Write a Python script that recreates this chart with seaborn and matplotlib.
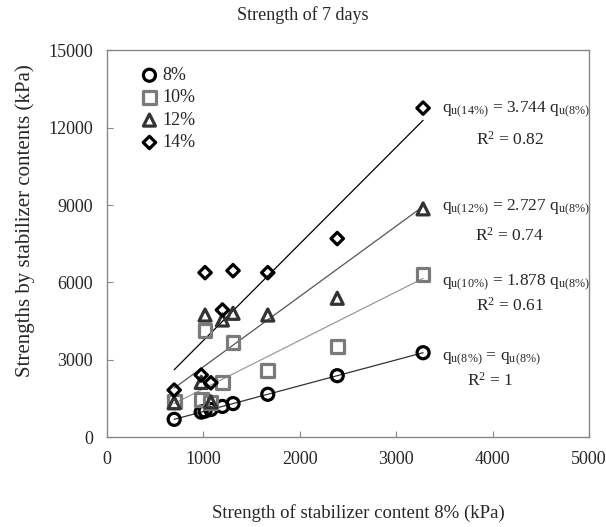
import numpy as np
import pandas as pd
import matplotlib
matplotlib.use("Agg")
import matplotlib.pyplot as plt
import seaborn as sns

# data (kPa)
strength_8 = [700, 980, 1020, 1080, 1200, 1310, 1670, 2390, 3280]
strength_10 = [1380, 1470, 4130, 1350, 2116, 3667, 2585, 3520, 6300]
strength_12 = [1341, 2130, 4740, 1380, 4547, 4806, 4740, 5388, 8850]
strength_14 = [1833, 2415, 6380, 2116, 4934, 6457, 6380, 7700, 12752]

groups = ["8%", "10%", "12%", "14%"]
slopes = [1.0, 1.878, 2.727, 3.744]
r_squared = ["1", "0.61", "0.74", "0.82"]

x_ticks = [0, 1000, 2000, 3000, 4000, 5000]
y_ticks = [0, 3000, 6000, 9000, 12000, 15000]

df = pd.DataFrame({"x": strength_8, "8%": strength_8, "10%": strength_10,
                   "12%": strength_12, "14%": strength_14})
long_df = df.melt(id_vars="x", var_name="group", value_name="y")

sns.set_style("ticks")
plt.rcParams["font.family"] = ["Liberation Serif", "DejaVu Serif"]
plt.rcParams["mathtext.fontset"] = "custom"
plt.rcParams["mathtext.rm"] = "Liberation Serif"
plt.rcParams["mathtext.it"] = "Liberation Serif:italic"

#Marker / line styles per group.
markers = {"8%": "o", "10%": "s", "12%": "^", "14%": "D"}
marker_sizes = {"8%": 75, "10%": 85, "12%": 75, "14%": 40}
marker_colors = {"8%": "black", "10%": "#7a7a7a", "12%": "#333333", "14%": "black"}
line_colors = {"8%": "#333333", "10%": "#9a9a9a", "12%": "#555555", "14%": "black"}

fig = plt.figure(figsize=(6.06, 5.27), dpi=100)
ax = fig.add_axes([0.176, 0.170, 0.796, 0.735])

#Fitted lines through origin.
x_line = np.array([min(strength_8), max(strength_8)])
for g, k in zip(groups, slopes):
    sns.lineplot(x=x_line, y=k * x_line, color=line_colors[g], linewidth=0.9, ax=ax, zorder=2)

#Scatter points, hollow markers.
for g in groups:
    sub = long_df[long_df["group"] == g]
    sns.scatterplot(x=sub["x"].values, y=sub["y"].values, marker=markers[g], s=marker_sizes[g],
                    color=marker_colors[g], facecolors="none", edgecolor=marker_colors[g],
                    linewidth=2.3, ax=ax, label=g, zorder=3)

ax.set_xlim(0, 5000)
ax.set_ylim(0, 15000)
ax.set_xticks(x_ticks)
ax.set_yticks(y_ticks)
ax.tick_params(direction="in", length=4, color="#888888", labelsize=13)
ax.tick_params(axis="x", pad=10)
ax.tick_params(axis="y", pad=10)
for s in ax.spines.values():
    s.set_color("#888888")
    s.set_linewidth(1.0)

ax.set_xlabel("Strength of stabilizer content 8% (kPa)", fontsize=13.5)
ax.set_ylabel("Strengths by stabilizer contents (kPa)", fontsize=15)
ax.xaxis.set_label_coords(0.521, -0.172)
ax.yaxis.set_label_coords(-0.148, 0.56)
fig.text(0.5, 1 - 15 / 527, "Strength of 7 days", ha="center", va="center", fontsize=13)

#Equation annotations.
eq_y = {"8%": 3035, "10%": 5981, "12%": 8888, "14%": 12686}
r2_pos = {"8%": (3973, 2182), "10%": (4180, 5089), "12%": (4180, 7802), "14%": (4180, 11523)}
for g, k, r2 in zip(groups, slopes, r_squared):
    sub = g.replace("%", r"\%")
    if g == "8%":
        txt = r"q$_{\mathrm{u(8\%)}}$ = q$_{\mathrm{u(8\%)}}$"
    else:
        txt = r"q$_{\mathrm{u(" + sub + r")}}$ = " + f"{k:.3f}" + r" q$_{\mathrm{u(8\%)}}$"
    ax.text(3475, eq_y[g], txt, fontsize=12.5, ha="left", va="center")
    ax.text(r2_pos[g][0], r2_pos[g][1], r"R$^{2}$ = " + r2, fontsize=12.5, ha="center", va="center")

ax.legend(loc="upper left", bbox_to_anchor=(0.055, 0.975), frameon=False, fontsize=13,
          handlelength=1.0, handletextpad=0.2, labelspacing=0.3, borderaxespad=0)

fig.savefig("out.png", dpi=100)
